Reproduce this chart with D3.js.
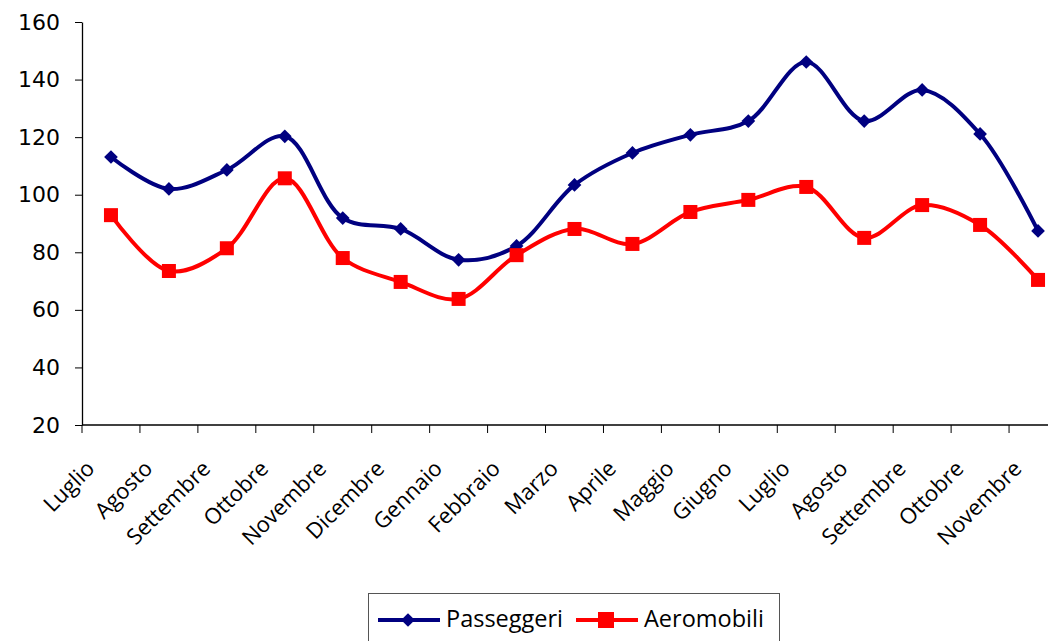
<!DOCTYPE html>
<html><head><meta charset="utf-8">
<script src="https://cdn.jsdelivr.net/npm/d3@7"></script>
<style>body{margin:0;background:#fff;overflow:hidden}svg{display:block}</style>
</head><body>
<script>
const categories = ["Luglio","Agosto","Settembre","Ottobre","Novembre","Dicembre","Gennaio","Febbraio","Marzo","Aprile","Maggio","Giugno","Luglio","Agosto","Settembre","Ottobre","Novembre"];
const passeggeri = [113.1,102,108.6,120.3,91.9,88.1,77.4,82.2,103.4,114.5,120.8,125.6,146.1,125.6,136.4,121.1,87.4];
const aeromobili = [92.9,73.5,81.4,105.7,78,69.7,63.8,79,88.1,82.9,94,98.2,102.7,85,96.4,89.5,70.4];
const yTicks = [20,40,60,80,100,120,140,160];
const seriesNames = ["Passeggeri","Aeromobili"];

(function(){
const W=1048,H=641;
const svg=d3.select("body").append("svg").attr("width",W).attr("height",H);
const pl=82,pr=1067,pt=22,pb=425;
const idx=d3.range(categories.length);
const x=d3.scaleBand().domain(idx).range([pl,pr]);
const y=d3.scaleLinear().domain([20,160]).range([pb,pt]);
const cx=i=>x(i)+x.bandwidth()/2;

const ya=svg.append("g").attr("transform",`translate(${pl},0)`)
  .call(d3.axisLeft(y).tickValues(yTicks).tickSize(7).tickPadding(15).tickSizeOuter(0));
ya.select(".domain").attr("stroke","#000").attr("stroke-width",1.3);
ya.selectAll(".tick line").attr("stroke","#000");
ya.selectAll("text").attr("font-family","DejaVu Sans").attr("font-size",22).attr("fill","#000");

const xa=svg.append("g").attr("transform",`translate(0,${pb})`);
xa.append("line").attr("x1",pl).attr("x2",pr).attr("y1",0).attr("y2",0).attr("stroke","#000").attr("stroke-width",1.3);
xa.selectAll("line.t").data(d3.range(categories.length+1)).enter().append("line")
  .attr("x1",i=>pl+i*x.bandwidth()).attr("x2",i=>pl+i*x.bandwidth()).attr("y1",0).attr("y2",8).attr("stroke","#000");
xa.selectAll("text").data(idx).enter().append("text")
  .attr("transform",i=>`translate(${cx(i)-15},${45}) rotate(-45)`)
  .attr("text-anchor","end").attr("font-family","Open Sans").attr("font-size",22).attr("fill","#000")
  .text(i=>categories[i]);

const line=d3.line().x((d,i)=>cx(i)).y(d=>y(d)).curve(d3.curveCatmullRom.alpha(0.5));
const cols=["#000080","#FF0000"];
[passeggeri,aeromobili].forEach((s,k)=>{
  svg.append("path").attr("d",line(s)).attr("fill","none").attr("stroke",cols[k]).attr("stroke-width",4);
});
const dia=d3.symbol(d3.symbolDiamond2 || d3.symbolDiamond,120)();
svg.selectAll("path.dia").data(passeggeri).enter().append("path")
  .attr("d",dia)
  .attr("transform",(d,i)=>`translate(${cx(i)},${y(d)})`).attr("fill",cols[0]);
svg.selectAll("rect.sq").data(aeromobili).enter().append("rect")
  .attr("x",(d,i)=>cx(i)-7).attr("y",d=>y(d)-7).attr("width",14).attr("height",14).attr("fill",cols[1]);

const lg=svg.append("g");
lg.append("rect").attr("x",368.5).attr("y",593.5).attr("width",411).attr("height",60).attr("fill","#fff").attr("stroke","#555").attr("stroke-width",1);
const ly=620;
lg.append("line").attr("x1",378).attr("x2",440).attr("y1",ly).attr("y2",ly).attr("stroke",cols[0]).attr("stroke-width",4);
lg.append("path").attr("d",dia).attr("transform",`translate(408,${ly})`).attr("fill",cols[0]);
lg.append("text").attr("x",446).attr("y",627).attr("font-family","Open Sans").attr("font-size",23.5).text(seriesNames[0]);
lg.append("line").attr("x1",576).attr("x2",638).attr("y1",ly).attr("y2",ly).attr("stroke",cols[1]).attr("stroke-width",4);
lg.append("rect").attr("x",598).attr("y",ly-8).attr("width",16).attr("height",16).attr("fill",cols[1]);
lg.append("text").attr("x",644).attr("y",627).attr("font-family","Open Sans").attr("font-size",23.5).text(seriesNames[1]);
})();
</script>
</body></html>
